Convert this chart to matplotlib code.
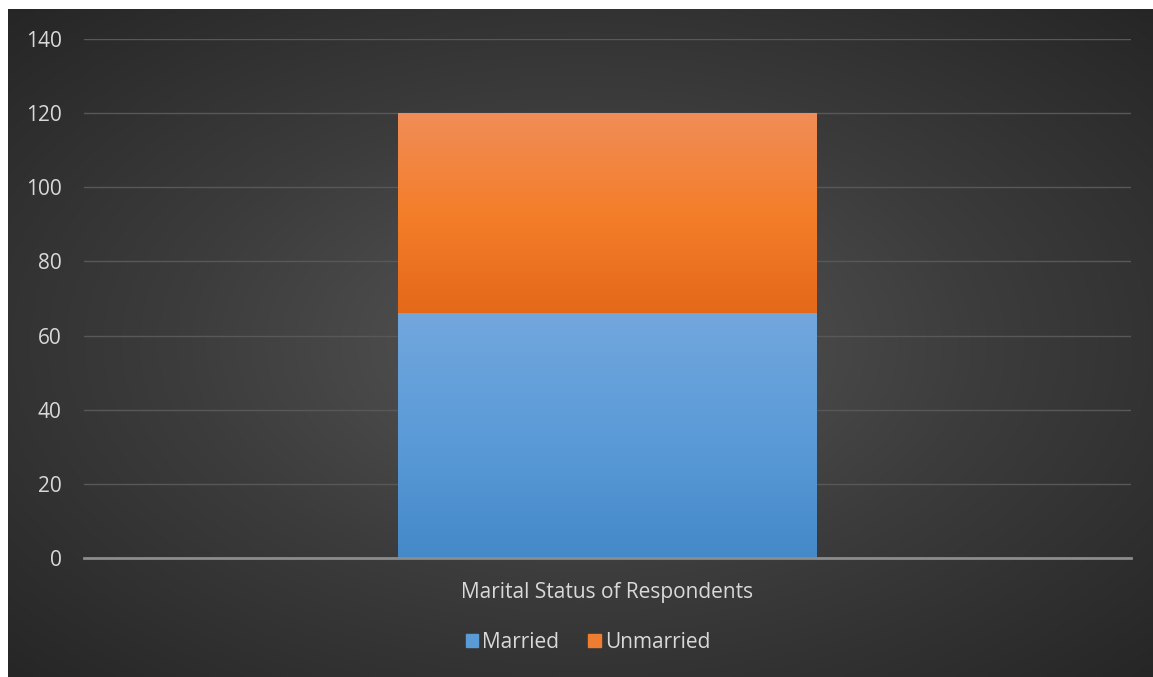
import matplotlib
matplotlib.use('Agg')
from matplotlib import pyplot as plt
from matplotlib.colors import LinearSegmentedColormap
import numpy as np

plt.rcParams['font.family'] = ['Open Sans', 'DejaVu Sans']

categories = ['Marital Status of Respondents']
married = [66]
unmarried = [54]
series_names = ['Married', 'Unmarried']
y_ticks = [0, 20, 40, 60, 80, 100, 120, 140]

# gradient colours (top, middle, bottom) for each series
grad_colours = {
    'Married': ('#72a7dd', '#5b9bd8', '#4589c9'),
    'Unmarried': ('#f08d58', '#f47e2a', '#e4691a'),
}
legend_colours = {'Married': '#5b9bd5', 'Unmarried': '#ed7d31'}

W, H = 1153, 677
fig = plt.figure(figsize=(W / 100, H / 100), dpi=100)
fig.patch.set_facecolor('white')

# radial gradient background
bg = fig.add_axes([8 / W, 0, (W - 8) / W, (H - 9) / H])
bg.set_axis_off()
yy, xx = np.mgrid[0:300, 0:500]
r = np.sqrt(((xx - 250) / 250) ** 2 + ((yy - 150) / 150) ** 2) / np.sqrt(2)
bg_cmap = LinearSegmentedColormap.from_list('bg', ['#575757', '#3c3c3c', '#262626'])
bg.imshow(r, cmap=bg_cmap, aspect='auto', extent=[0, 1, 0, 1], vmin=0, vmax=1)
bg.set_xlim(0, 1)
bg.set_ylim(0, 1)

ax = fig.add_axes([84 / W, (H - 558) / H, 1047 / W, (558 - 39) / H])
ax.patch.set_alpha(0)
x = np.arange(len(categories))
width = 0.4

bars1 = ax.bar(x, married, width, color='none', label='Married')
bars2 = ax.bar(x, unmarried, width, bottom=married, color='none', label='Unmarried')

def fill_gradient(bars, name):
    top, mid, bottom = grad_colours[name]
    cmap = LinearSegmentedColormap.from_list(name, [bottom, mid, top])
    grad = np.linspace(0, 1, 256).reshape(-1, 1)
    for b in bars:
        x0, y0 = b.get_x(), b.get_y()
        im = ax.imshow(grad, cmap=cmap, aspect='auto', origin='lower',
                       extent=[x0, x0 + b.get_width(), y0, y0 + b.get_height()],
                       zorder=2)
        im.set_clip_path(b)

fill_gradient(bars1, 'Married')
fill_gradient(bars2, 'Unmarried')

ax.set_xlim(-0.5, 0.5)
ax.set_ylim(0, 140)
ax.set_yticks(y_ticks)
ax.set_xticks(x)
ax.set_xticklabels(categories)
ax.grid(axis='y', color='#585858', linewidth=1, zorder=0)
ax.set_axisbelow(True)
for s in ['top', 'right', 'left']:
    ax.spines[s].set_visible(False)
ax.spines['bottom'].set_color('#8c8c8c')
ax.spines['bottom'].set_linewidth(2)
ax.spines['bottom'].set_zorder(3)
ax.tick_params(axis='both', length=0, colors='#d9d9d9', labelsize=15)
ax.tick_params(axis='y', pad=16)
ax.tick_params(axis='x', pad=17)

handles = [plt.Rectangle((0, 0), 1, 1, color=legend_colours[n]) for n in series_names]
leg = fig.legend(handles, series_names, loc='center', bbox_to_anchor=(588 / W, (H - 642) / H),
                 ncol=2, frameon=False, fontsize=15, handlelength=0.6, handleheight=0.6,
                 handletextpad=0.2, columnspacing=1.4)
for t in leg.get_texts():
    t.set_color('#d9d9d9')

fig.savefig('out.png', dpi=100, facecolor=fig.get_facecolor())
